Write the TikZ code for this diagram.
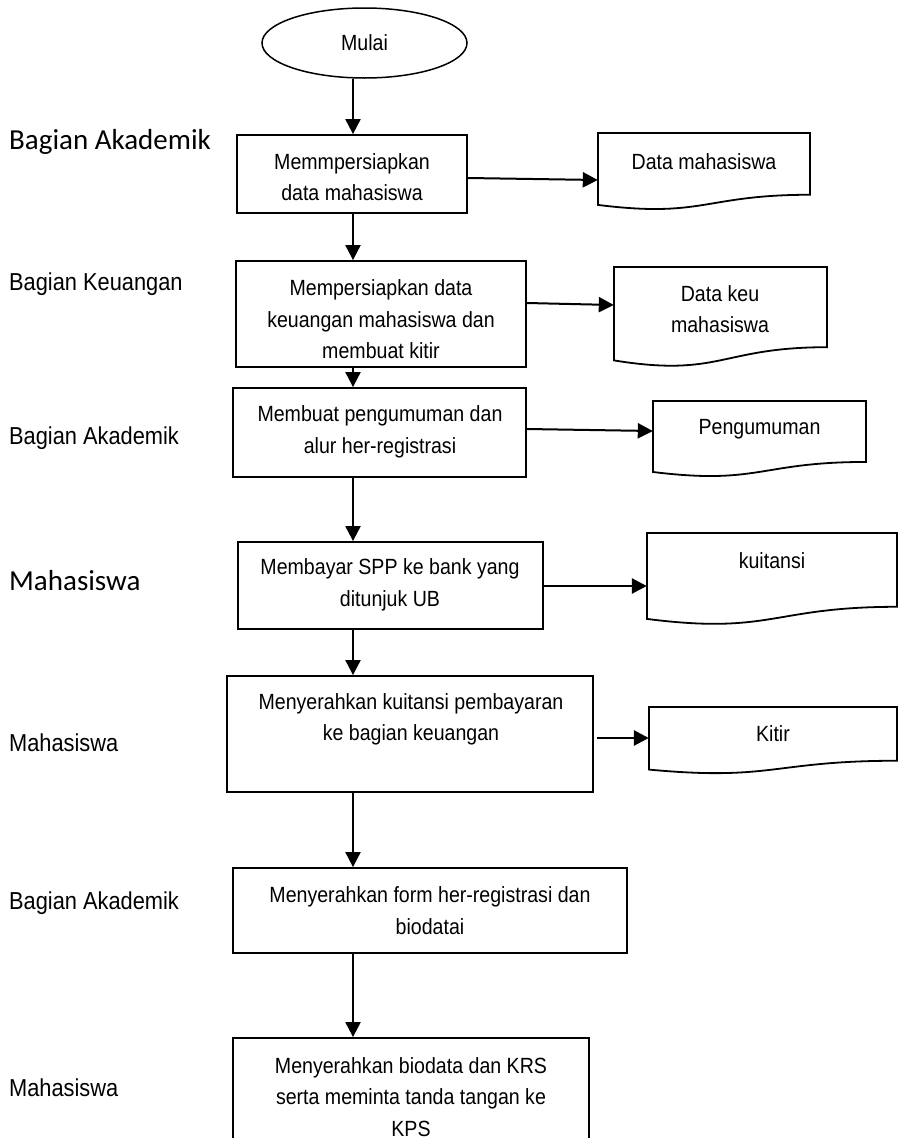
\documentclass[tikz,border=0pt]{standalone}
\usepackage{fontspec}
\setmainfont[FakeStretch=0.89]{Liberation Sans}
\newfontfamily\calib{Carlito}
\usetikzlibrary{arrows.meta,fit,shapes.geometric}
\newcommand\docshape[5]{% name, x1, x2, top, h
  \node[docbox, fit={(#2,#4) (#3,#4+#5)}] (#1) {};
  \draw[docline] (#2,#4) -- (#3,#4) -- (#3,#4+0.802*#5)
    .. controls ({(#2+#3)/2},#4+0.802*#5) and ({(#2+#3)/2},#4+1.107*#5) .. (#2,#4+0.934*#5) -- cycle;
}
\begin{document}
\begin{tikzpicture}[x=1pt,y=-1pt,
  box/.style={draw, line width=1.8pt, inner sep=0pt},
  docbox/.style={inner sep=0pt},
  docline/.style={line width=1.8pt, line join=miter},
  txt/.style={align=center, inner sep=0pt, font=\fontsize{22}{31.5}\selectfont},
  lab/.style={anchor=west, inner sep=0pt, font=\fontsize{24.5}{28}\selectfont},
  labc/.style={anchor=west, inner sep=0pt, font=\calib\fontsize{29}{34}\selectfont},
  arr/.style={line width=2pt, -{Triangle[length=15pt,width=15pt]}},
  arrt/.style={line width=2.8pt, -{Triangle[length=15pt,width=15pt]}}]
\clip (0,0) rectangle (904,1138);
\fill[white] (0,0) rectangle (904,1138);
\coordinate (col) at (353,0);

% start
\node[draw, ellipse, line width=1.5pt, inner sep=0pt, minimum width=205pt, minimum height=70pt,
      font=\fontsize{22}{26}\selectfont] (start) at (364.5,43) {Mulai};

% process boxes
\node[box, fit={(237,135) (467,213)}] (b1) {};
\node[box, fit={(236,261) (526,367)}] (b2) {};
\node[box, fit={(233,388) (526,477)}] (b3) {};
\node[box, fit={(238,542) (543,629)}] (b4) {};
\node[box, fit={(227,676) (593,792)}] (b5) {};
\node[box, fit={(233,868) (627,953)}] (b6) {};
\node[box, fit={(233,1038) (589,1170)}] (b7) {};

\node[txt] (t1) at (352,177) {Memmpersiapkan\\data mahasiswa};
\node[txt] (t2) at (381,319.5) {Mempersiapkan data\\keuangan mahasiswa dan\\membuat kitir};
\node[txt] (t3) at (380,432) {Membuat pengumuman dan\\alur her-registrasi};
\node[txt] (t4) at (390,585) {Membayar SPP ke bank yang\\ditunjuk UB};
\node[txt] (t5) at (411,719.5) {Menyerahkan kuitansi pembayaran\\ke bagian keuangan};
\node[txt] (t6) at (430,910.5) {Menyerahkan form her-registrasi dan\\biodatai};
\node[txt] (t7) at (411,1097) {Menyerahkan biodata dan KRS\\serta meminta tanda tangan ke\\KPS};

% documents
\docshape{d1}{598}{810}{133}{77}
\docshape{d2}{614}{827}{267}{100}
\docshape{d3}{653}{866}{401}{76}
\docshape{d4}{647}{897}{533}{92}
\docshape{d5}{649}{897}{707}{67}

\node[txt] (dt1) at (704,162) {Data mahasiswa};
\node[txt] (dt2) at (720,309) {Data keu\\mahasiswa};
\node[txt] (dt3) at (759.5,429) {Pengumuman};
\node[txt] (dt4) at (772,561) {kuitansi};
\node[txt] (dt5) at (773,734) {Kitir};

% role labels
\node[labc] (l1) at (9,142) {Bagian Akademik};
\node[lab] (l2) at (9,284) {Bagian Keuangan};
\node[lab] (l3) at (9,438) {Bagian Akademik};
\node[labc] (l4) at (9,581) {Mahasiswa};
\node[lab] (l5) at (9,743) {Mahasiswa};
\node[lab] (l6) at (9,903) {Bagian Akademik};
\node[lab] (l7) at (9,1088) {Mahasiswa};

% vertical flow
\draw[arr] (start.south -| col) -- (b1.north -| col);
\draw[arr] (b1.south -| col) -- (b2.north -| col);
\draw[arr] (b2.south -| col) -- (b3.north -| col);
\draw[arr] (b3.south -| col) -- (b4.north -| col);
\draw[arr] (b4.south -| col) -- (b5.north -| col);
\draw[arr] (b5.south -| col) -- (b6.north -| col);
\draw[arr] (b6.south -| col) -- (b7.north -| col);

% outputs
\draw[arr] (b1.east |- 0,178) -- (d1.west |- 0,180);
\draw[arr] (b2.east |- 0,303) -- (d2.west |- 0,305);
\draw[arr] (b3.east |- 0,429) -- (d3.west |- 0,431);
\draw[arrt] (b4.east |- 0,586) -- (d4.west |- 0,586);
\draw[arrt] ([xshift=3pt]b5.east |- 0,738) -- (d5.west |- 0,738);
\end{tikzpicture}
\end{document}
